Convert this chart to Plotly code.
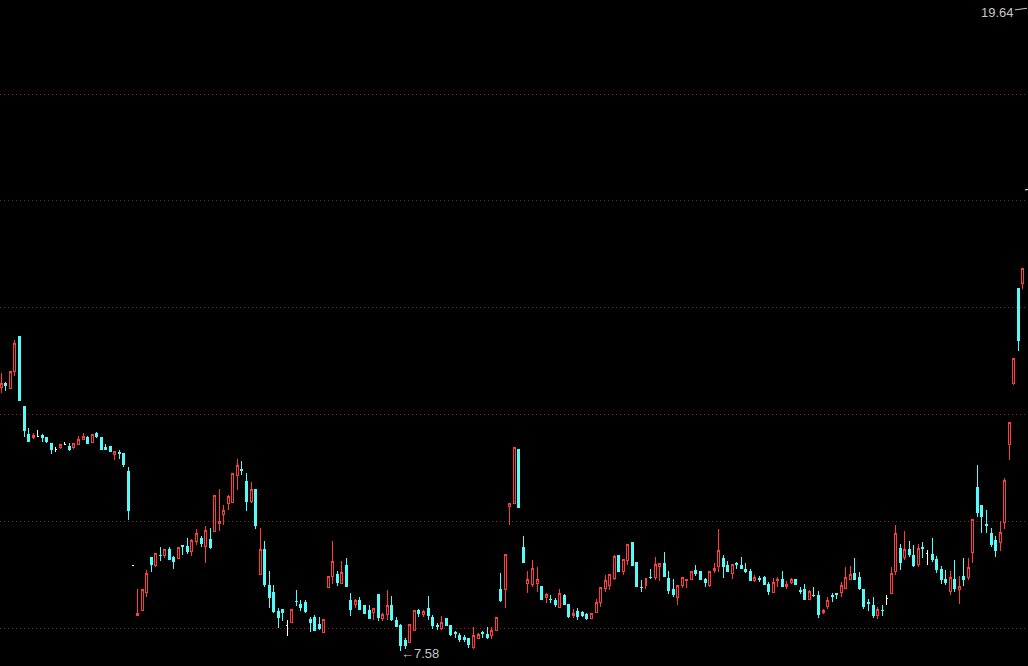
import plotly.graph_objects as go

# ---- data (prices) ----
opens = [12.51, 12.59, 12.50, 12.81, 13.46, 12.16, 11.63, 11.57, 11.59, 11.61,
         11.58, 11.46, 11.35, 11.40, 11.44, 11.42, 11.40, 11.45, 11.55, 11.58,
         11.49, 11.66, 11.57, 11.40, 11.41, 11.26, 11.30, 11.28, 10.95, 9.19,
         8.25, 8.34, 8.68, 9.33, 9.18, 9.38, 9.37, 9.48, 9.33, 9.31,
         9.56, 9.55, 9.44, 9.63, 9.70, 9.54, 9.68, 9.82, 9.98, 10.14,
         10.35, 10.37, 10.87, 10.98, 10.75, 10.38, 10.60, 9.01, 9.48, 8.82,
         8.69, 8.32, 8.36, 8.06, 8.13, 8.52, 8.45, 8.50, 8.17, 8.21,
         8.09, 7.93, 8.77, 8.98, 9.01, 8.85, 9.18, 8.54, 8.45, 8.54,
         8.43, 8.34, 8.30, 8.64, 8.19, 8.28, 8.43, 8.15, 8.07, 7.78,
         7.74, 7.98, 8.34, 8.27, 8.39, 8.22, 8.06, 8.01, 8.19, 8.07,
         7.93, 7.88, 7.84, 7.83, 7.65, 7.83, 7.93, 7.89, 7.87, 7.98,
         8.74, 8.74, 10.29, 10.35, 11.35, 9.53, 8.85, 8.84, 8.85, 8.80,
         8.59, 8.56, 8.54, 8.41, 8.62, 8.45, 8.26, 8.32, 8.30, 8.28,
         8.19, 8.30, 8.49, 8.75, 8.82, 8.95, 9.38, 9.07, 9.28, 9.61,
         9.24, 8.78, 8.82, 8.97, 8.97, 9.16, 9.23, 8.95, 8.73, 8.59,
         8.81, 8.90, 8.93, 9.10, 9.08, 8.93, 8.82, 9.09, 9.16, 9.31,
         9.18, 9.03, 9.22, 9.19, 9.12, 9.08, 8.90, 8.94, 8.97, 8.84,
         8.68, 8.90, 8.93, 8.79, 8.87, 8.92, 8.72, 8.73, 8.56, 8.63,
         8.62, 8.30, 8.42, 8.62, 8.67, 8.68, 8.76, 8.92, 9.03, 8.97,
         8.74, 8.49, 8.43, 8.25, 8.35, 8.57, 8.66, 9.07, 9.50, 9.33,
         9.48, 9.38, 9.21, 9.53, 9.41, 9.40, 9.29, 9.12, 8.93, 8.70,
         8.93, 8.73, 8.98, 8.96, 9.43, 10.65, 10.30, 9.95, 9.79, 9.66,
         9.62, 9.99, 11.45, 12.59, 14.37, 14.46]
highs = [12.79, 12.62, 12.82, 13.40, 13.47, 12.17, 11.76, 11.67, 11.72, 11.64,
         11.59, 11.46, 11.41, 11.44, 11.50, 11.47, 11.47, 11.61, 11.66, 11.61,
         11.64, 11.68, 11.57, 11.45, 11.42, 11.33, 11.34, 11.28, 11.03, 9.19,
         8.75, 8.73, 9.10, 9.33, 9.41, 9.53, 9.48, 9.53, 9.36, 9.53,
         9.56, 9.71, 9.69, 9.87, 9.74, 9.93, 9.89, 10.50, 10.62, 10.32,
         10.50, 10.91, 11.18, 11.14, 10.92, 10.75, 10.62, 9.89, 9.65, 9.08,
         8.82, 8.40, 8.36, 8.17, 8.37, 8.73, 8.54, 8.54, 8.22, 8.26,
         8.22, 8.17, 8.99, 9.64, 9.08, 9.27, 9.33, 8.67, 8.56, 8.59,
         8.43, 8.45, 8.39, 8.64, 8.30, 8.73, 8.62, 8.22, 8.09, 7.83,
         8.09, 8.34, 8.37, 8.36, 8.62, 8.26, 8.11, 8.24, 8.21, 8.07,
         7.96, 7.93, 7.89, 7.83, 8.03, 7.93, 7.96, 8.03, 8.03, 8.22,
         9.05, 9.40, 10.35, 11.40, 11.35, 9.74, 9.08, 9.29, 9.16, 8.80,
         8.68, 8.64, 8.57, 8.74, 8.65, 8.47, 8.37, 8.39, 8.34, 8.30,
         8.29, 8.56, 8.79, 9.01, 9.01, 9.38, 9.38, 9.30, 9.57, 9.61,
         9.26, 8.92, 8.95, 9.12, 9.35, 9.23, 9.44, 9.08, 8.93, 8.82,
         8.97, 8.93, 9.08, 9.20, 9.08, 8.95, 9.08, 9.24, 9.87, 9.38,
         9.27, 9.20, 9.25, 9.35, 9.24, 9.13, 9.01, 8.99, 8.99, 8.88,
         8.95, 8.98, 9.08, 8.90, 8.95, 8.93, 8.79, 8.85, 8.73, 8.78,
         8.71, 8.37, 8.60, 8.67, 8.67, 8.87, 9.16, 9.18, 9.33, 9.07,
         8.74, 8.56, 8.60, 8.42, 8.45, 8.64, 9.16, 9.94, 9.59, 9.83,
         9.64, 9.57, 9.59, 9.62, 9.48, 9.70, 9.36, 9.18, 9.10, 9.08,
         9.29, 8.99, 9.33, 9.33, 10.05, 11.07, 10.30, 10.22, 9.88, 9.74,
         10.02, 10.82, 11.86, 13.06, 14.37, 14.74]
lows = [12.42, 12.45, 12.49, 12.72, 12.26, 11.59, 11.50, 11.55, 11.58, 11.50,
        11.48, 11.27, 11.31, 11.36, 11.43, 11.33, 11.36, 11.44, 11.55, 11.45,
        11.49, 11.57, 11.35, 11.36, 11.31, 11.16, 11.18, 11.03, 10.04, 9.19,
        8.25, 8.34, 8.60, 9.07, 9.16, 9.27, 9.33, 9.29, 9.12, 9.31,
        9.38, 9.41, 9.36, 9.57, 9.54, 9.24, 9.50, 9.82, 9.83, 9.94,
        10.22, 10.37, 10.60, 10.88, 10.21, 10.35, 9.87, 9.01, 8.78, 8.40,
        8.29, 8.01, 8.15, 7.86, 8.11, 8.43, 8.34, 8.29, 7.95, 7.98,
        7.98, 7.93, 8.77, 8.84, 8.81, 8.84, 8.79, 8.24, 8.39, 8.37,
        8.29, 8.19, 8.17, 8.14, 8.15, 8.17, 8.14, 8.04, 7.58, 7.63,
        7.74, 7.98, 8.23, 8.23, 8.17, 8.00, 7.98, 7.98, 8.07, 7.86,
        7.83, 7.76, 7.76, 7.65, 7.62, 7.81, 7.83, 7.81, 7.81, 7.98,
        8.51, 8.39, 9.94, 10.35, 10.27, 9.24, 8.68, 8.79, 8.70, 8.56,
        8.48, 8.49, 8.42, 8.39, 8.46, 8.20, 8.20, 8.17, 8.23, 8.17,
        8.19, 8.30, 8.42, 8.70, 8.73, 8.92, 9.08, 9.01, 9.20, 9.18,
        8.79, 8.70, 8.75, 8.93, 8.92, 8.90, 8.98, 8.65, 8.59, 8.45,
        8.77, 8.77, 8.93, 8.99, 8.92, 8.79, 8.79, 9.05, 9.07, 8.96,
        9.06, 8.93, 9.12, 9.13, 9.04, 8.90, 8.88, 8.88, 8.84, 8.64,
        8.67, 8.79, 8.79, 8.75, 8.85, 8.82, 8.65, 8.54, 8.54, 8.59,
        8.21, 8.28, 8.37, 8.51, 8.56, 8.60, 8.74, 8.92, 8.92, 8.73,
        8.37, 8.34, 8.21, 8.19, 8.25, 8.45, 8.66, 9.01, 9.10, 9.29,
        9.34, 9.16, 9.15, 9.33, 9.20, 9.26, 9.05, 8.84, 8.82, 8.64,
        8.70, 8.47, 8.80, 8.92, 9.23, 10.10, 9.80, 9.80, 9.54, 9.35,
        9.46, 9.87, 11.16, 12.56, 13.20, 14.36]
closes = [12.58, 12.55, 12.82, 13.33, 12.28, 11.71, 11.50, 11.61, 11.59, 11.57,
          11.50, 11.35, 11.35, 11.44, 11.44, 11.36, 11.47, 11.55, 11.59, 11.47,
          11.64, 11.59, 11.35, 11.36, 11.31, 11.31, 11.28, 11.07, 10.22, 9.19,
          8.29, 8.73, 9.04, 9.20, 9.41, 9.37, 9.48, 9.29, 9.26, 9.53,
          9.55, 9.44, 9.65, 9.78, 9.59, 9.85, 9.53, 10.50, 10.00, 10.21,
          10.48, 10.90, 11.05, 10.96, 10.38, 10.60, 9.93, 9.48, 8.84, 8.59,
          8.32, 8.21, 8.30, 8.06, 8.36, 8.51, 8.40, 8.32, 8.12, 7.98,
          8.01, 8.17, 8.99, 9.27, 8.87, 9.06, 8.79, 8.36, 8.54, 8.37,
          8.29, 8.19, 8.39, 8.21, 8.28, 8.43, 8.17, 8.04, 7.70, 7.69,
          8.09, 8.34, 8.29, 8.32, 8.26, 8.07, 8.05, 8.13, 8.07, 7.89,
          7.91, 7.81, 7.81, 7.71, 7.87, 7.89, 7.91, 7.84, 7.98, 8.22,
          8.54, 9.40, 10.35, 11.40, 10.27, 9.24, 8.92, 9.13, 8.92, 8.56,
          8.64, 8.55, 8.45, 8.67, 8.46, 8.23, 8.29, 8.24, 8.26, 8.19,
          8.29, 8.50, 8.77, 8.90, 9.01, 9.36, 9.08, 9.30, 9.57, 9.18,
          8.80, 8.77, 8.95, 8.96, 9.20, 9.23, 8.98, 8.72, 8.64, 8.82,
          8.97, 8.93, 9.08, 9.04, 8.92, 8.87, 9.08, 9.13, 9.46, 9.16,
          9.07, 9.20, 9.21, 9.13, 9.08, 8.90, 8.97, 8.93, 8.84, 8.70,
          8.87, 8.93, 8.79, 8.84, 8.92, 8.84, 8.70, 8.56, 8.70, 8.62,
          8.28, 8.34, 8.54, 8.61, 8.64, 8.82, 8.97, 9.01, 8.92, 8.76,
          8.42, 8.47, 8.25, 8.36, 8.34, 8.57, 9.04, 9.79, 9.24, 9.49,
          9.40, 9.18, 9.50, 9.51, 9.41, 9.29, 9.12, 8.93, 8.87, 8.97,
          8.75, 8.80, 8.92, 9.15, 10.05, 10.17, 10.10, 9.94, 9.57, 9.46,
          9.81, 10.78, 11.86, 13.06, 13.40, 14.74]

grid_levels = [8, 10, 12, 14, 16, 18]
high_label = 19.64
low_label = 7.58
low_index = 88
marker_level = 16.21

RED = "#ff3c3c"
CYAN = "#54fcfc"
WHITE = "#ffffff"
TEXT = "#c8c8c8"

n = len(opens)
xs = list(range(n))

groups = {"up": [], "down": [], "doji": []}
for i in xs:
    if closes[i] > opens[i]:
        groups["up"].append(i)
    elif closes[i] < opens[i]:
        groups["down"].append(i)
    else:
        groups["doji"].append(i)

styles = {
    "up": (RED, "#000000"),
    "down": (CYAN, CYAN),
    "doji": (WHITE, WHITE),
}

fig = go.Figure()
for key, idx in groups.items():
    line_c, fill_c = styles[key]
    fig.add_trace(go.Candlestick(
        x=idx,
        open=[opens[i] for i in idx],
        high=[highs[i] for i in idx],
        low=[lows[i] for i in idx],
        close=[closes[i] for i in idx],
        increasing=dict(line=dict(color=line_c, width=1), fillcolor=fill_c),
        decreasing=dict(line=dict(color=line_c, width=1), fillcolor=fill_c),
        whiskerwidth=0,
        hoverinfo="skip",
        showlegend=False,
    ))

fig.add_annotation(
    x=1, xref="paper", y=high_label, yref="y",
    text=f"{high_label:.2f}", showarrow=True, arrowhead=0, arrowwidth=1,
    arrowcolor=TEXT, ax=-31, ay=4, yshift=-2,
    font=dict(family="Liberation Sans, Arial, sans-serif", size=13, color=TEXT),
)
fig.add_annotation(
    x=low_index, xref="x", y=low_label, yref="y",
    text=f"\u2190{low_label:.2f}", showarrow=False,
    xanchor="left", yanchor="middle", yshift=-2, xshift=-2,
    font=dict(family="Liberation Sans, Arial, sans-serif", size=13, color=TEXT),
)
fig.add_shape(type="line", xref="paper", yref="y", x0=0.997, x1=1.0,
              y0=marker_level, y1=marker_level, line=dict(color=WHITE, width=1))

fig.update_layout(
    width=1028, height=666,
    margin=dict(l=0, r=0, t=0, b=0),
    paper_bgcolor="#000000", plot_bgcolor="#000000",
    boxgap=0.56, boxgroupgap=0,
    showlegend=False, hovermode=False,
    xaxis=dict(range=[-0.286, 226.14], showgrid=False, zeroline=False,
               showticklabels=False, rangeslider=dict(visible=False), fixedrange=True),
    yaxis=dict(range=[7.308, 19.757], tickvals=grid_levels, showgrid=True,
               gridcolor="#8c1c1c", gridwidth=1, griddash="1px,3px",
               zeroline=False, showticklabels=False, fixedrange=True),
)

page_fix = (
    "document.body.style.margin='0';"
    "document.body.style.overflow='hidden';"
    "document.body.style.background='#000';"
    "var s=document.createElement('style');"
    "s.textContent='.trace.boxes path{shape-rendering:crispEdges}';"
    "document.head.appendChild(s);"
)

fig.write_html("out.html", config={"displayModeBar": False}, post_script=page_fix)
